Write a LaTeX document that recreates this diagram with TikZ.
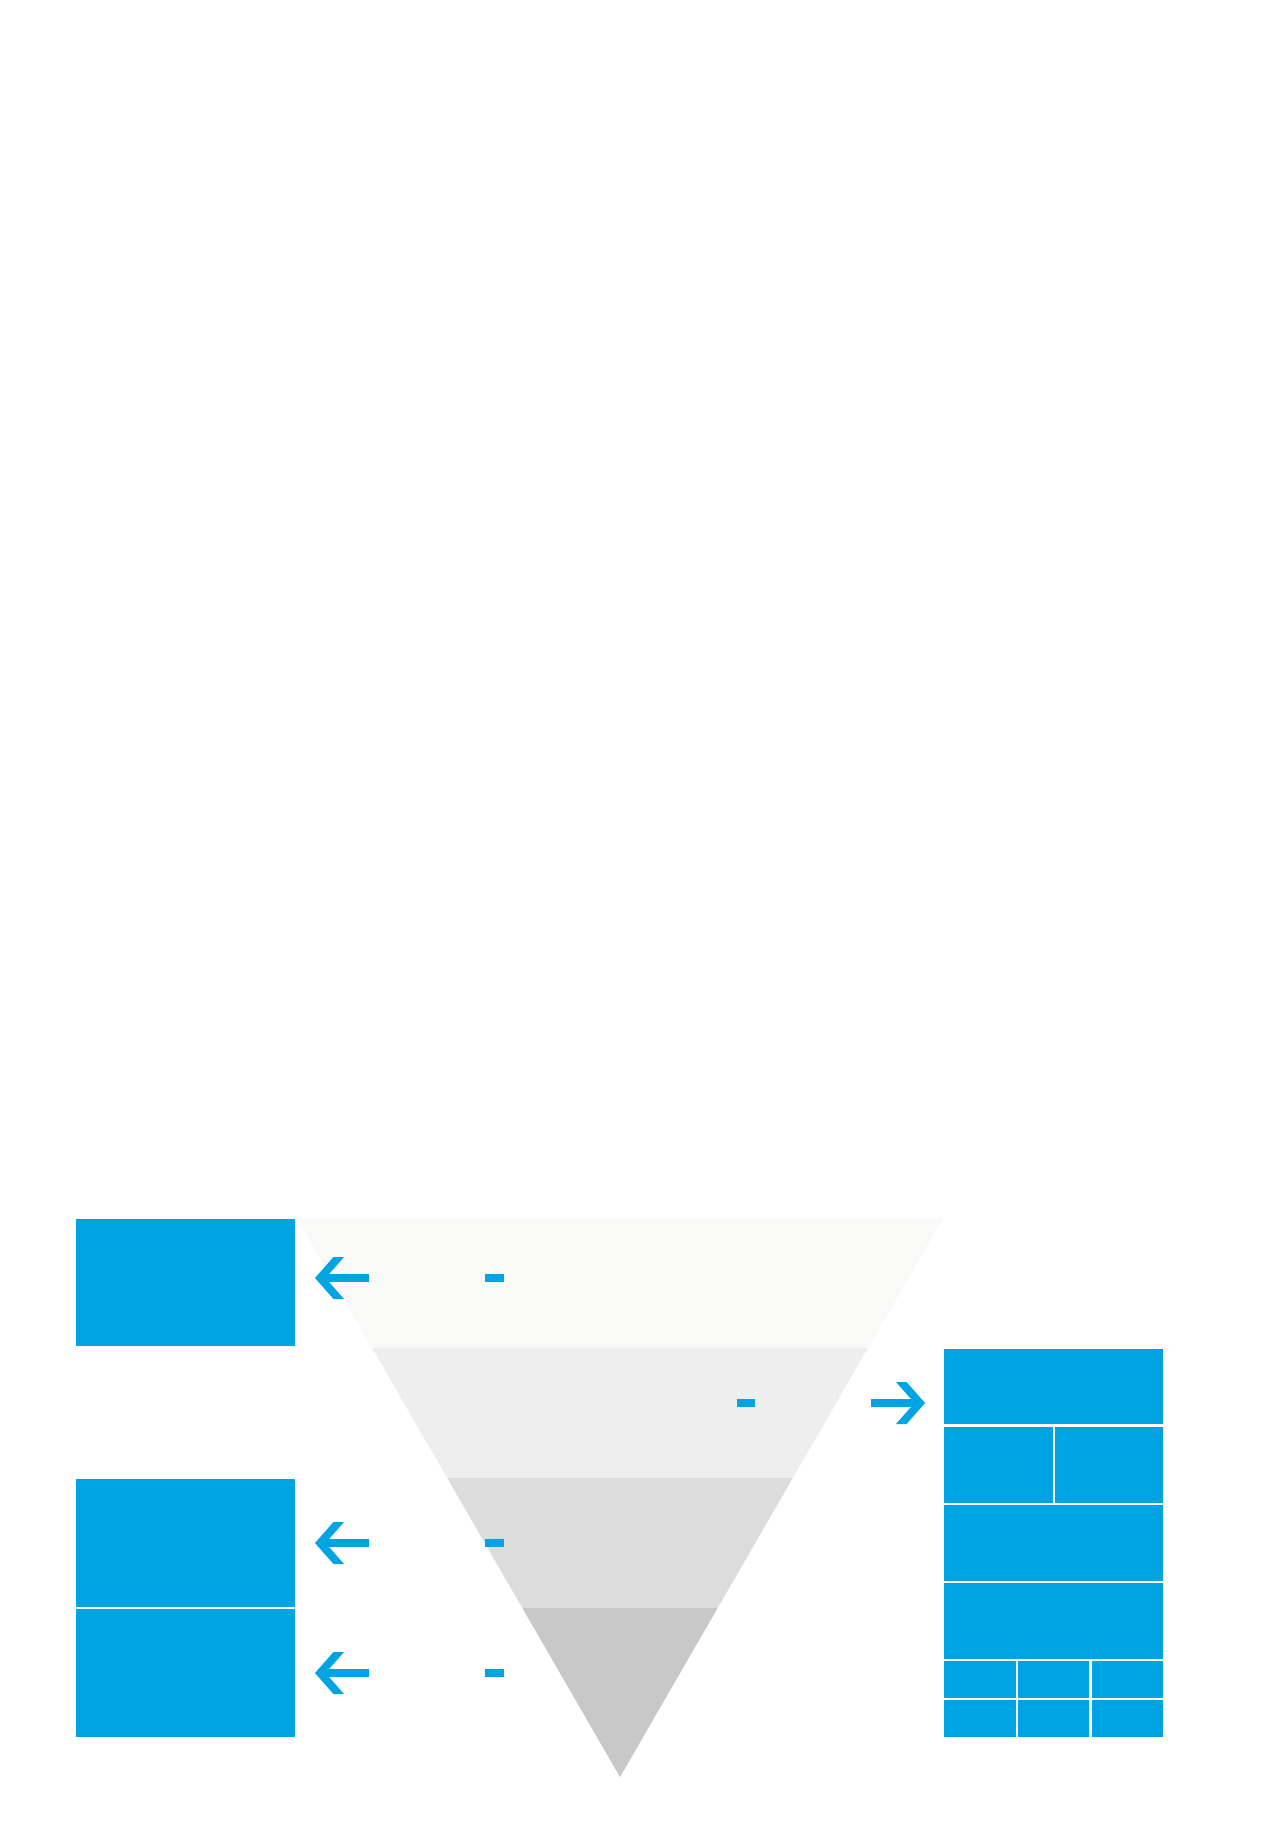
\documentclass[tikz,border=0pt]{standalone}
\usetikzlibrary{positioning}
\definecolor{blu}{HTML}{00A4E2}
\definecolor{bandA}{HTML}{F9F9F7}
\definecolor{bandB}{HTML}{EEEEEE}
\definecolor{bandC}{HTML}{DCDCDC}
\definecolor{bandD}{HTML}{C8C8C8}
\tikzset{
  blk/.style={rectangle, fill=blu, draw=none, inner sep=0pt, outer sep=0pt, anchor=north west},
  dashmark/.style={rectangle, fill=blu, draw=none, inner sep=0pt, minimum width=9.25pt, minimum height=3.8pt},
  shaft/.style={draw=blu, line width=3.8pt},
  headL/.pic={\fill[blu] (0,0) -- (18.5,-21) -- (29,-21) -- (10.5,0) -- (29,21) -- (18.5,21) -- cycle;},
  headR/.pic={\fill[blu] (0,0) -- (-18.5,-21) -- (-29,-21) -- (-10.5,0) -- (-29,21) -- (-18.5,21) -- cycle;}
}
\begin{document}
\begin{tikzpicture}[x=0.5pt,y=-0.5pt]
\useasboundingbox (0,0) rectangle (1263,1839);
\fill[white] (0,0) rectangle (1263,1839);

% funnel (inverted triangle) with four bands
\coordinate (TL) at (297,1218);
\coordinate (TR) at (943,1218);
\coordinate (AP) at (620,1777);
\begin{scope}
  \clip (TL) -- (TR) -- (AP) -- cycle;
  \fill[bandA] (280,1218) rectangle (960,1348);
  \fill[bandB] (280,1348) rectangle (960,1478);
  \fill[bandC] (280,1478) rectangle (960,1608);
  \fill[bandD] (280,1608) rectangle (960,1780);
\end{scope}

% left boxes
\node[blk, minimum width=109.5pt, minimum height=63.5pt] (L1) at (76,1219) {};
\node[blk, minimum width=109.5pt, minimum height=64pt] (L2) at (76,1479) {};
\node[blk, minimum width=109.5pt, minimum height=64pt] (L3) at (76,1609) {};

% right boxes
\node[blk, minimum width=109.5pt, minimum height=37.5pt] (R1) at (944,1349) {};
\node[blk, minimum width=54.5pt, minimum height=38pt] (R2a) at (944,1427) {};
\node[blk, minimum width=54pt, minimum height=38pt] (R2b) at (1055,1427) {};
\node[blk, minimum width=109.5pt, minimum height=38pt] (R3) at (944,1505) {};
\node[blk, minimum width=109.5pt, minimum height=38pt] (R4) at (944,1583) {};
\node[blk, minimum width=36pt, minimum height=18.5pt] (R5a) at (944,1661) {};
\node[blk, minimum width=35.5pt, minimum height=18.5pt] (R5b) at (1018,1661) {};
\node[blk, minimum width=35.5pt, minimum height=18.5pt] (R5c) at (1092,1661) {};
\node[blk, minimum width=36pt, minimum height=18.5pt] (R6a) at (944,1700) {};
\node[blk, minimum width=35.5pt, minimum height=18.5pt] (R6b) at (1018,1700) {};
\node[blk, minimum width=35.5pt, minimum height=18.5pt] (R6c) at (1092,1700) {};

% dash marks inside the funnel
\node[dashmark] (D1) at (494.5,1278) {};
\node[dashmark] (D2) at (746,1403) {};
\node[dashmark] (D3) at (494.5,1543) {};
\node[dashmark] (D4) at (494.5,1673) {};

% arrows
\coordinate (A1s) at (369,1278); \coordinate (A1t) at (315,1278);
\coordinate (A2s) at (871,1403); \coordinate (A2t) at (925,1403);
\coordinate (A3s) at (369,1543); \coordinate (A3t) at (315,1543);
\coordinate (A4s) at (369,1673); \coordinate (A4t) at (315,1673);

\draw[shaft] (A1s) -- ([xshift=3.5pt]A1t);
\pic at (A1t) {headL};
\draw[shaft] (A2s) -- ([xshift=-3.5pt]A2t);
\pic at (A2t) {headR};
\draw[shaft] (A3s) -- ([xshift=3.5pt]A3t);
\pic at (A3t) {headL};
\draw[shaft] (A4s) -- ([xshift=3.5pt]A4t);
\pic at (A4t) {headL};
\end{tikzpicture}
\end{document}
